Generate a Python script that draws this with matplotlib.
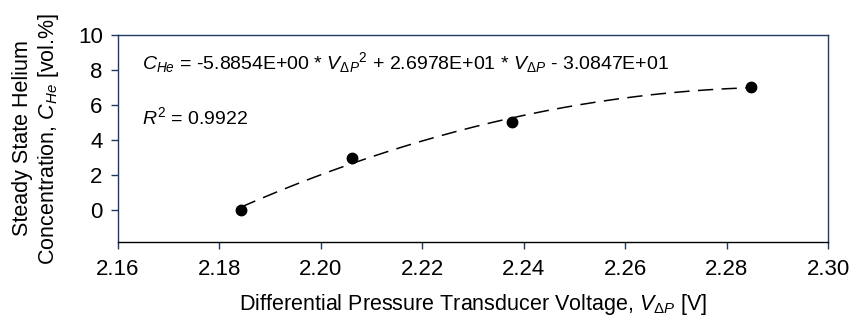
import matplotlib
matplotlib.use('Agg')
from matplotlib import pyplot as plt
import numpy as np

volts = [2.1843, 2.2061, 2.2377, 2.2848]
conc = [0.0, 2.97, 5.03, 7.03]

xticks = [2.16, 2.18, 2.20, 2.22, 2.24, 2.26, 2.28, 2.30]
yticks = [0, 2, 4, 6, 8, 10]

eq_text = r'$\mathit{C_{He}}$ = -5.8854E+00 * $\mathit{V_{ΔP}}^{2}$ + 2.6978E+01 * $\mathit{V_{ΔP}}$ - 3.0847E+01'
r2_text = r'$\mathit{R}^{2}$ = 0.9922'

plt.rcParams['font.family'] = ['Liberation Sans', 'DejaVu Sans']
plt.rcParams['mathtext.fontset'] = 'custom'
plt.rcParams['mathtext.rm'] = 'Liberation Sans'
plt.rcParams['mathtext.it'] = 'Liberation Sans:italic'
plt.rcParams['mathtext.default'] = 'regular'

frame = '#1f3864'
fig = plt.figure(figsize=(8.51, 3.22), dpi=100)
ax = fig.add_axes([118/851, 80/322, 710/851, 207/322])

# quadratic trendline through the points
coef = np.polyfit(volts, conc, 2)
xs = np.linspace(min(volts), max(volts), 200)
ax.plot(xs, np.polyval(coef, xs), color='black', linewidth=1.1, dashes=(10, 5.5))
ax.plot(volts, conc, 'o', color='black', markersize=7.5, zorder=3)

ax.set_xlim(2.16, 2.30)
ax.set_ylim(-1.85, 10)
ax.set_xticks(xticks)
ax.set_xticklabels([f'{v:.2f}' for v in xticks])
ax.set_yticks(yticks)

for s in ['top', 'right', 'left']:
    ax.spines[s].set_color(frame)
ax.spines['bottom'].set_color('black')
for s in ax.spines.values():
    s.set_linewidth(1.0)
ax.tick_params(direction='out', length=5, width=1, colors=frame, labelcolor='black', labelsize=16)
ax.tick_params(axis='x', pad=7)
ax.tick_params(axis='y', pad=6)

ax.set_xlabel(r'Differential Pressure Transducer Voltage, $\mathit{V_{ΔP}}$ [V]', fontsize=15.5, labelpad=9)
ax.set_ylabel('Steady State Helium\n' + r'Concentration, $\mathit{C_{He}}$ [vol.%]', fontsize=15.5, labelpad=12, linespacing=1.15)

ax.text(0.034, 0.865, eq_text, transform=ax.transAxes, fontsize=14, va='center')
ax.text(0.034, 0.604, r2_text, transform=ax.transAxes, fontsize=14, va='center')

fig.savefig('out.png', dpi=100)
